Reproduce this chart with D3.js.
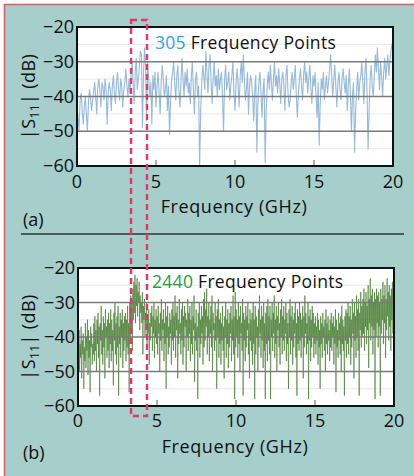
<!DOCTYPE html>
<html><head><meta charset="utf-8">
<script src="https://cdn.jsdelivr.net/npm/d3@7"></script>
<style>
html,body{margin:0;padding:0;background:#fff;}
svg{display:block;font-family:"Open Sans","Noto Sans",sans-serif;}
</style></head>
<body>
<script>
// ---------- data ----------
const xTicks = [0, 5, 10, 15, 20];
const yTicks = [-20, -30, -40, -50, -60];
const yTickLabels = ["−20", "−30", "−40", "−50", "−60"];
const panelLabels = ["(a)", "(b)"];
const pointCounts = ["305", "2440"];
const xLabel = "Frequency (GHz)";

// |S11| (dB), 305 frequency points, 0–20 GHz
const s11Coarse = [
 -42,-46,-50,-41,-39,-44,-48,-43,-40,-45,-50,-42,-38,-40,-44,-41,
 -39,-36,-40,-45,-37,-35,-38,-43,-36,-37,-41,-35,-38,-48,-39,
 -36,-38,-44,-37,-34,-39,-42,-36,-33,-38,-41,-35,-37,-43,-38,-36,
 -32,-37,-40,-35,-39,-34,-30,-36,-42,-33,-29,-38,-35,-31,-27,
 -28,-49,-33,-26,-31,-47,-30,-35,-40,-36,-48,-34,-38,-33,-43,-37,
 -33,-39,-45,-36,-31,-35,-40,-38,-34,-44,-37,-51,-42,-35,-33,
 -30,-36,-41,-34,-31,-38,-43,-36,-29,-35,-40,-33,-37,-32,-39,
 -36,-42,-34,-30,-38,-45,-35,-33,-40,-37,-60,-44,-36,-31,-34,-38,
 -27,-33,-39,-31,-28,-36,-42,-35,-30,-37,-34,-40,-32,-38,-35,
 -33,-40,-50,-35,-31,-38,-36,-33,-41,-37,-34,-30,-39,-44,-36,
 -32,-37,-43,-34,-30,-36,-28,-35,-41,-38,-33,-45,-37,-34,-36,
 -40,-47,-38,-34,-56,-42,-36,-33,-39,-46,-38,-35,-59,-44,-37,
 -33,-38,-31,-36,-41,-35,-30,-37,-34,-39,-32,-36,-42,-35,-33,
 -37,-44,-34,-31,-39,-43,-41,-36,-33,-38,-35,-31,-40,-46,-39,
 -35,-32,-37,-41,-34,-30,-36,-33,-39,-35,-31,-38,-42,-34,-37,
 -33,-40,-46,-36,-54,-42,-35,-38,-33,-41,-37,-34,-39,-36,-32,
 -28,-34,-40,-35,-31,-37,-43,-36,-33,-38,-41,-35,-32,-36,-39,
 -34,-44,-37,-32,-39,-50,-40,-36,-56,-45,-38,-33,-41,-36,-34,
 -30,-36,-42,-33,-29,-38,-55,-44,-35,-31,-37,-40,-34,-28,-33,
 -26,-32,-38,-30,-34,-40,-33,-29,-35,-31,-28,-34,-30,-27,-25,-24
];

// |S11| (dB), dense sweep (2440-point measurement, read at reduced density)
const s11Fine = [
 -40,-48,-38,-50,-42,-46,-37,-52,-41,-45,-39,-55,-43,-47,-36,-49,-40,-44,-35,-51,-38,-46,-41,-56,-37,-43,-39,-48,-42,-45,
 -36,-47,-34,-44,-38,-50,-35,-42,-33,-46,-37,-57,-36,-41,-31,-45,-38,-48,-34,-43,-36,-52,-32,-40,-37,-46,-35,-44,-33,-49,
 -36,-42,-32,-47,-35,-44,-38,-54,-33,-41,-30,-45,-36,-48,-34,-43,-31,-57,-37,-42,-33,-46,-35,-40,-32,-49,-36,-44,-34,-41,
 -33,-47,-35,-43,-31,-45,-36,-56,-30,-42,-28,-38,-29,-44,-26,-35,-24,-33,-22,-36,-25,-31,-23,-34,-27,-30,-24,-38,-28,-33,
 -30,-36,-27,-45,-31,-35,-29,-40,-33,-38,-30,-43,-35,-39,-32,-48,-36,-41,-33,-37,-31,-44,-34,-39,-30,-46,-35,-40,-32,-42,
 -34,-45,-31,-39,-36,-50,-33,-41,-29,-44,-35,-38,-32,-47,-36,-42,-30,-55,-34,-40,-31,-45,-37,-43,-33,-39,-35,-48,-32,-41,
 -30,-44,-34,-40,-28,-46,-33,-38,-31,-52,-35,-42,-29,-39,-36,-45,-32,-41,-30,-48,-34,-43,-31,-37,-33,-50,-35,-40,-29,-44,
 -33,-39,-31,-47,-35,-42,-30,-45,-34,-38,-28,-53,-36,-41,-32,-44,-37,-58,-33,-40,-30,-46,-35,-42,-31,-39,-34,-48,-29,-43,
 -27,-41,-32,-37,-26,-45,-34,-40,-30,-47,-35,-39,-31,-43,-28,-50,-33,-38,-36,-44,-30,-41,-34,-55,-32,-40,-29,-46,-35,-42,
 -33,-48,-36,-41,-31,-44,-37,-52,-34,-40,-30,-46,-35,-42,-32,-49,-36,-43,-33,-39,-31,-47,-35,-41,-28,-45,-34,-58,-27,-43,
 -32,-40,-35,-46,-30,-42,-34,-50,-31,-39,-36,-44,-29,-57,-33,-41,-35,-47,-31,-43,-34,-38,-30,-45,-36,-52,-32,-41,-35,-44,
 -33,-48,-30,-42,-35,-58,-31,-45,-34,-40,-37,-50,-32,-43,-28,-39,-35,-46,-31,-41,-34,-49,-30,-44,-36,-58,-33,-42,-31,-47,
 -29,-41,-34,-45,-31,-58,-35,-40,-30,-44,-33,-39,-28,-46,-35,-42,-31,-50,-34,-38,-30,-43,-36,-48,-32,-40,-29,-45,-34,-41,
 -31,-44,-35,-39,-30,-47,-33,-42,-36,-55,-32,-40,-29,-45,-34,-41,-31,-48,-35,-43,-33,-39,-30,-46,-36,-57,-32,-42,-34,-44,
 -30,-41,-33,-46,-35,-40,-31,-52,-34,-43,-28,-39,-33,-45,-36,-42,-30,-58,-34,-41,-32,-47,-35,-43,-31,-40,-33,-46,-36,-42,
 -34,-45,-37,-41,-33,-48,-35,-43,-38,-55,-34,-42,-36,-46,-33,-40,-37,-44,-35,-50,-32,-42,-36,-45,-34,-41,-38,-47,-35,-43,
 -33,-44,-36,-40,-34,-48,-37,-42,-32,-56,-35,-43,-38,-46,-33,-41,-36,-45,-34,-50,-31,-42,-35,-44,-37,-57,-34,-41,-32,-46,
 -33,-42,-30,-45,-34,-40,-31,-48,-35,-43,-29,-39,-33,-52,-30,-41,-34,-46,-28,-40,-32,-44,-29,-57,-33,-38,-27,-43,-31,-40,
 -29,-39,-26,-44,-30,-37,-27,-42,-31,-38,-25,-49,-29,-36,-23,-41,-28,-37,-26,-45,-30,-38,-27,-58,-29,-40,-26,-36,-28,-43,
 -27,-37,-30,-57,-26,-39,-29,-35,-24,-42,-28,-36,-25,-46,-29,-38,-23,-34,-27,-41,-25,-37,-28,-44,-26,-35,-24,-39,-27,-33
];

const highlightBand = [3.42, 4.43]; // GHz, dashed box

// ---------- drawing ----------
const W = 414, H = 476;
const svg = d3.select("body").append("svg").attr("width", W).attr("height", H);

// frame
svg.append("rect").attr("x",4.5).attr("y",4.5).attr("width",W).attr("height",H)
  .attr("fill","#a6cecb").attr("stroke","#d86466").attr("stroke-width",1.6);

const panels = [
  {top:27, bottom:166, left:77, right:393, data:s11Coarse, color:"#7aa9d4", width:1.1, op:0.8,
   numColor:"#2aa6df", count:pointCounts[0], label:panelLabels[0], numX:155, numY:49,
   tickY:188, xLabY:213, panY:226},
  {top:268, bottom:406, left:78, right:394, data:s11Fine, color:"#3c7524", width:0.85, op:0.72,
   numColor:"#1e9a48", count:pointCounts[1], label:panelLabels[1], numX:152, numY:288,
   tickY:427, xLabY:453, panY:459}
];

let firstX = null;
panels.forEach((p, pi) => {
  const x = d3.scaleLinear().domain([0,20]).range([p.left,p.right]);
  const y = d3.scaleLinear().domain([-60,-20]).range([p.bottom,p.top]);
  if (pi === 0) firstX = x;
  const g = svg.append("g");
  g.append("rect").attr("x",p.left).attr("y",p.top).attr("width",p.right-p.left)
    .attr("height",p.bottom-p.top).attr("fill","#fff");
  // minor grid
  g.selectAll(".mg").data([-25,-35,-45,-55]).enter().append("line")
    .attr("x1",p.left).attr("x2",p.right).attr("y1",d=>y(d)).attr("y2",d=>y(d))
    .attr("stroke","#e8e8e8").attr("stroke-width",1);
  // data
  const n = p.data.length;
  const line = d3.line().x((d,i)=>x(i*20/(n-1))).y(d=>y(d));
  g.append("path").datum(p.data).attr("d",line).attr("fill","none")
    .attr("stroke",p.color).attr("stroke-width",p.width).attr("stroke-opacity",p.op)
    .attr("stroke-linejoin","round");
  // major grid
  g.selectAll(".gg").data([-30,-40,-50]).enter().append("line")
    .attr("x1",p.left).attr("x2",p.right).attr("y1",d=>y(d)).attr("y2",d=>y(d))
    .attr("stroke","#7a7a7a").attr("stroke-width",1.4);
  // inner x ticks
  g.selectAll(".xt").data([5,10,15]).enter().append("line")
    .attr("x1",d=>x(d)).attr("x2",d=>x(d)).attr("y1",p.bottom).attr("y2",p.bottom-6)
    .attr("stroke","#777").attr("stroke-width",1.2);
  // border
  g.append("rect").attr("x",p.left).attr("y",p.top).attr("width",p.right-p.left)
    .attr("height",p.bottom-p.top).attr("fill","none").attr("stroke","#111").attr("stroke-width",2);
  // y tick labels
  g.selectAll(".yl").data(yTicks).enter().append("text")
    .attr("x",p.left-3).attr("y",d=>y(d)+6).attr("text-anchor","end")
    .attr("font-size",18).attr("fill","#111").text((d,i)=>yTickLabels[i]);
  // x tick labels
  g.selectAll(".xl").data(xTicks).enter().append("text")
    .attr("x",d=>x(d)).attr("y",p.tickY).attr("text-anchor","middle")
    .attr("font-size",18).attr("fill","#111").text(d=>d);
  // x label
  g.append("text").attr("x",(p.left+p.right)/2 - 1).attr("y",p.xLabY).attr("text-anchor","middle")
    .attr("font-size",18).attr("letter-spacing",0.6).attr("fill","#111").text(xLabel);
  // y label
  const yl = g.append("text").attr("transform",`translate(35,${(p.top+p.bottom)/2}) rotate(-90)`)
    .attr("text-anchor","middle").attr("font-size",18).attr("letter-spacing",0.4).attr("fill","#111");
  yl.append("tspan").text("|S");
  yl.append("tspan").attr("font-size",12).attr("dy",4).text("11");
  yl.append("tspan").attr("dy",-4).text("| (dB)");
  // annotation
  const t = g.append("text").attr("x",p.numX).attr("y",p.numY).attr("font-size",17.5).attr("letter-spacing",0.3);
  t.append("tspan").attr("fill",p.numColor).text(p.count);
  t.append("tspan").attr("fill","#111").text(" Frequency Points");
  // panel label
  g.append("text").attr("x",23).attr("y",p.panY).attr("font-size",18).attr("fill","#111").text(p.label);
});

// separator
svg.append("line").attr("x1",21).attr("x2",404).attr("y1",234).attr("y2",234)
  .attr("stroke","#333").attr("stroke-width",1.5);

// dashed highlight box
svg.append("rect").attr("x",firstX(highlightBand[0])).attr("y",20)
  .attr("width",firstX(highlightBand[1])-firstX(highlightBand[0])).attr("height",396)
  .attr("fill","none").attr("stroke","#e8336b").attr("stroke-width",2.4)
  .attr("stroke-dasharray","6,4");
</script>
</body></html>
